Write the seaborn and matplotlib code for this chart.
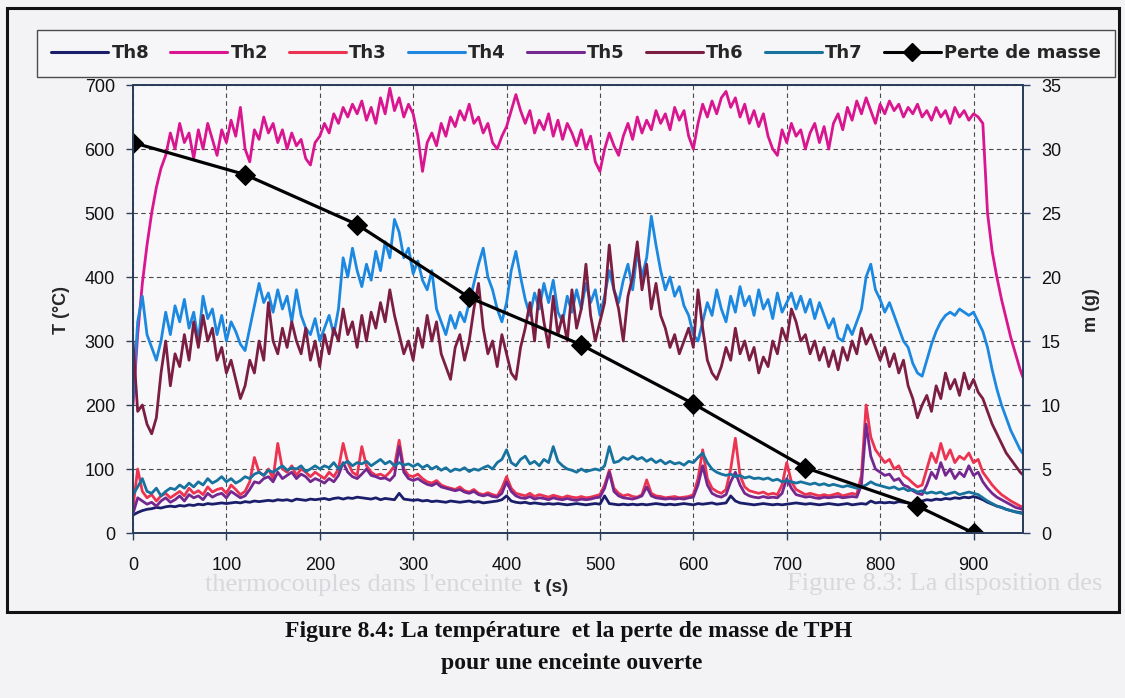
import numpy as np
import pandas as pd
import matplotlib
matplotlib.use("Agg")
import matplotlib.pyplot as plt
import seaborn as sns
from matplotlib.lines import Line2D
from matplotlib.patches import Rectangle

# Acquisition grid: one reading every 5 s
t_s = np.arange(0, 960, 5)

th8 = [28, 32, 35, 37, 38, 40, 39, 41, 42, 41, 43, 42, 44, 43, 45, 44, 46, 45, 46, 47,
       46, 47, 48, 47, 49, 48, 50, 49, 50, 51, 50, 52, 51, 52, 50, 53, 52, 51, 53, 52,
       53, 54, 52, 54, 55, 53, 55, 54, 56, 55, 54, 53, 55, 52, 54, 53, 52, 62, 53, 52,
       51, 52, 50, 51, 49, 50, 49, 48, 50, 49, 48, 49, 50, 48, 49, 47, 48, 49, 50, 52,
       58, 50, 48, 47, 48, 46, 47, 46, 45, 46, 45, 46, 45, 44, 45, 46, 45, 44, 45, 46,
       45, 58, 46, 45, 44, 45, 44, 45, 44, 45, 44, 45, 46, 45, 44, 45, 44, 45, 46, 45,
       44, 46, 45, 46, 47, 45, 46, 47, 58, 50, 47, 46, 45, 44, 45, 46, 45, 44, 45, 44,
       45, 46, 47, 46, 45, 46, 45, 44, 45, 46, 45, 44, 45, 46, 44, 45, 46, 45, 50, 47,
       48, 47, 48, 47, 49, 48, 47, 46, 48, 50, 52, 51, 53, 52, 54, 53, 55, 54, 56, 55,
       57, 55, 52, 48, 45, 42, 40, 37, 35, 33, 32, 30]

th2 = [200, 310, 390, 450, 500, 540, 570, 590, 625, 600, 640, 610, 625, 585, 630, 600, 640, 615, 590, 630,
       610, 645, 620, 665, 600, 580, 630, 615, 650, 625, 640, 610, 630, 600, 625, 605, 615, 585, 575, 610,
       620, 640, 625, 655, 640, 665, 650, 670, 655, 675, 645, 665, 640, 680, 655, 695, 660, 680, 650, 670,
       655, 620, 565, 610, 625, 605, 640, 620, 650, 635, 660, 645, 670, 640, 650, 625, 640, 610, 600, 620,
       635, 660, 685, 660, 640, 660, 625, 645, 630, 655, 620, 645, 615, 640, 625, 605, 630, 600, 620, 580,
       565, 600, 625, 605, 590, 620, 640, 615, 650, 625, 645, 630, 660, 640, 655, 630, 665, 645, 660, 620,
       600, 640, 670, 650, 675, 655, 680, 690, 665, 680, 650, 670, 640, 660, 635, 655, 620, 600, 590, 630,
       610, 640, 620, 630, 600, 625, 640, 610, 635, 600, 640, 655, 630, 665, 645, 675, 655, 680, 660, 640,
       670, 655, 675, 660, 670, 650, 665, 655, 670, 650, 660, 645, 665, 650, 660, 640, 665, 650, 660, 645,
       655, 650, 640, 500, 440, 400, 365, 335, 305, 280, 255, 235]

th3 = [40, 100, 65, 55, 60, 50, 58, 62, 55, 60, 65, 58, 70, 62, 66, 60, 72, 64, 68, 70,
       62, 75, 68, 60, 65, 80, 118, 95, 90, 100, 85, 140, 100, 95, 105, 90, 100, 95, 88, 95,
       90, 85, 95, 88, 100, 140, 110, 95, 90, 135, 105, 95, 90, 92, 88, 95, 105, 145, 100, 90,
       88, 92, 85, 80, 78, 82, 75, 72, 70, 68, 72, 66, 64, 68, 62, 60, 63, 60, 58, 70,
       88, 70, 62, 60, 58, 62, 57, 60, 58, 56, 59, 57, 55, 58, 56, 55, 57, 55, 56, 58,
       60, 75, 98, 70, 62, 58, 60, 57, 56, 60, 83, 62, 58, 57, 55, 56, 57, 55, 56, 57,
       60, 85, 130, 85, 70, 65, 62, 68, 100, 148, 90, 72, 66, 64, 62, 64, 60, 62, 60, 75,
       110, 80, 68, 64, 60, 62, 60, 58, 60, 58, 60, 62, 58, 60, 62, 60, 90, 200, 150, 130,
       120, 110, 115, 100, 105, 90, 85, 78, 72, 75, 100, 125, 110, 140, 115, 130, 110, 120, 115, 125,
       110, 115, 95, 85, 75, 67, 60, 55, 50, 46, 42, 40]

th4 = [210, 330, 370, 310, 290, 270, 300, 345, 310, 355, 330, 365, 320, 345, 300, 370, 335, 350, 310, 340,
       300, 330, 315, 295, 285, 320, 355, 390, 360, 375, 345, 380, 350, 370, 330, 380, 340, 320, 310, 335,
       300, 320, 340, 310, 350, 430, 400, 445, 410, 385, 420, 395, 440, 410, 455, 430, 490, 470, 430, 445,
       405, 425, 395, 380, 410, 350, 330, 310, 340, 320, 345, 330, 360, 390, 420, 445, 400, 380, 350, 330,
       360, 410, 440, 400, 365, 340, 375, 350, 390, 360, 395, 345, 330, 370, 345, 380, 350, 390, 360, 380,
       340, 370, 410, 380, 360, 395, 420, 380, 440, 400, 430, 495, 450, 410, 380, 400, 370, 385, 355, 340,
       310, 300, 330, 360, 340, 380, 350, 330, 370, 345, 385, 355, 370, 340, 380, 350, 365, 335, 375, 345,
       360, 375, 350, 370, 345, 365, 335, 360, 340, 320, 335, 305, 300, 325, 310, 330, 350, 400, 420, 380,
       365, 345, 360, 340, 320, 300, 290, 265, 250, 245, 270, 295, 315, 330, 340, 345, 340, 350, 345, 340,
       345, 330, 315, 290, 255, 225, 200, 180, 160, 145, 130, 120]

th5 = [30, 55, 50, 45, 48, 42, 50, 55, 48, 52, 58, 50, 60, 55, 58, 52, 62, 56, 60, 62,
       55, 65, 60, 55, 58, 68, 80, 78, 85, 88, 80, 95, 85, 90, 95, 85, 92, 88, 80, 85,
       82, 78, 85, 80, 90, 110, 95, 88, 85, 92, 100, 90, 88, 85, 86, 82, 90, 135, 95, 85,
       82, 85, 80, 76, 74, 78, 72, 70, 68, 66, 68, 64, 62, 65, 60, 58, 60, 57, 56, 62,
       80, 65, 58, 55, 54, 57, 53, 55, 54, 52, 55, 53, 52, 54, 52, 51, 53, 52, 53, 55,
       56, 70, 95, 65, 58, 55, 54, 53, 55, 58, 72, 58, 55, 54, 53, 54, 53, 54, 53, 55,
       56, 75, 105, 75, 62, 58, 56, 60, 80, 95, 75, 62, 58, 56, 55, 57, 55, 56, 55, 62,
       85, 70, 60, 58, 56, 57, 55, 54, 56, 55, 56, 57, 55, 56, 57, 56, 75, 170, 120, 100,
       95, 90, 92, 82, 85, 75, 72, 66, 62, 60, 75, 95, 85, 110, 90, 100, 85, 95, 88, 105,
       90, 95, 80, 70, 62, 56, 52, 48, 44, 40, 38, 36]

th6 = [300, 190, 200, 170, 155, 180, 250, 300, 230, 280, 260, 310, 270, 330, 290, 340, 300, 320, 270, 290,
       250, 270, 240, 210, 230, 270, 250, 300, 270, 360, 300, 280, 320, 290, 330, 300, 280, 320, 270, 300,
       260, 310, 280, 320, 300, 350, 310, 330, 290, 340, 300, 345, 320, 360, 330, 380, 340, 310, 280, 300,
       270, 320, 290, 340, 300, 330, 280, 260, 240, 290, 310, 270, 300, 350, 390, 320, 280, 300, 260, 310,
       280, 250, 240, 290, 320, 360, 300, 380, 330, 290, 370, 310, 340, 300, 380, 320, 350, 420, 340, 300,
       330, 360, 450, 380, 350, 300, 370, 400, 455, 380, 420, 350, 390, 340, 320, 290, 310, 280, 300, 320,
       290, 380, 320, 270, 250, 240, 260, 290, 270, 320, 280, 300, 270, 290, 250, 275, 260, 300, 280, 320,
       300, 350, 330, 300, 310, 280, 300, 270, 290, 260, 285, 255, 290, 270, 300, 280, 320, 295, 310, 290,
       270, 290, 260, 280, 250, 270, 230, 210, 180, 200, 215, 190, 230, 210, 250, 225, 240, 215, 250, 225,
       240, 220, 210, 190, 170, 155, 140, 125, 115, 105, 95, 88]

th7 = [60, 72, 85, 65, 62, 70, 58, 65, 70, 68, 75, 70, 78, 72, 80, 75, 85, 78, 82, 88,
       80, 85, 78, 82, 88, 85, 92, 95, 90, 98, 95, 100, 105, 98, 102, 100, 105, 96, 100, 105,
       100, 105, 102, 110, 100, 108, 112, 105, 110, 108, 112, 105, 110, 115, 108, 112, 105, 110, 106, 108,
       104, 108, 102, 106, 100, 104, 98, 102, 96, 100, 98, 102, 96, 100, 98, 102, 105, 100, 110, 115,
       130, 110, 105, 115, 120, 108, 112, 105, 115, 110, 135, 112, 105, 100, 98, 95, 100, 96, 98, 100,
       98, 105, 135, 110, 112, 118, 115, 120, 115, 118, 112, 116, 110, 114, 108, 112, 108, 110, 106, 112,
       110, 118, 125, 110, 100, 95, 92, 90, 92, 88, 90, 86, 88, 85, 86, 84, 86, 82, 84, 80,
       82, 80, 78, 80, 78, 76, 78, 75, 77, 74, 76, 74, 72, 74, 72, 70, 72, 75, 80, 76,
       74, 72, 70, 72, 68, 70, 66, 68, 64, 66, 62, 64, 62, 64, 60, 62, 64, 60, 62, 64,
       62, 60, 55, 50, 46, 42, 40, 37, 35, 33, 31, 30]

# Mass loss of the fuel (weighings every 120 s)
mass_t = [0, 120, 240, 360, 480, 600, 720, 840, 900]
mass_g = [30.5, 28.0, 24.1, 18.4, 14.7, 10.1, 5.1, 2.1, 0.0]

series_names = ["Th8", "Th2", "Th3", "Th4", "Th5", "Th6", "Th7"]
series_values = [th8, th2, th3, th4, th5, th6, th7]
for name, vals in zip(series_names, series_values):
    assert len(vals) == len(t_s), (name, len(vals))

palette = {
    "Th8": "#1b1f6b",
    "Th2": "#d9168f",
    "Th3": "#ec3452",
    "Th4": "#1c88e0",
    "Th5": "#74288f",
    "Th6": "#7b1e42",
    "Th7": "#17729e",
}

sns.set_theme(style="white")
plt.rcParams["font.family"] = ["Liberation Sans", "DejaVu Sans"]

W, H = 1125, 698
fig = plt.figure(figsize=(W / 100, H / 100), dpi=100, facecolor="#f3f3f5")


def fx(px):
    return px / W


def fy(py):
    return 1 - py / H


# Faint show-through text of the facing page
ghost_kw = dict(color="#d8d8dc", family="Liberation Serif", fontsize=19, zorder=0)
fig.text(fx(205), fy(574), "thermocouples dans l'enceinte", va="top", ha="left", **ghost_kw)
fig.text(fx(787), fy(573), "Figure 8.3: La disposition des", va="top", ha="left", **ghost_kw)

# Chart frame
fig.patches.append(Rectangle((fx(7), fy(612)), fx(1119) - fx(7), fy(8) - fy(612),
                             transform=fig.transFigure, fill=False, edgecolor="#111111",
                             linewidth=2.2, zorder=1))

left, right, top, bottom = 133, 1023, 85, 533
ax = fig.add_axes([fx(left), fy(bottom), fx(right) - fx(left), fy(top) - fy(bottom)])
ax.set_facecolor("#f8f8fa")

df = pd.DataFrame({
    "t": np.tile(t_s, len(series_names)),
    "T": np.concatenate(series_values),
    "serie": np.repeat(series_names, len(t_s)),
})
sns.lineplot(data=df, x="t", y="T", hue="serie", hue_order=series_names, palette=palette,
             estimator=None, sort=False, linewidth=2.0, legend=False, ax=ax)

ax.set_xlim(0, 953)
ax.set_ylim(0, 700)
ax.set_xticks(range(0, 901, 100))
ax.set_yticks(range(0, 701, 100))
ax.set_xlabel("")
ax.set_ylabel("")
ax.grid(True, which="major", linestyle=(0, (4, 3)), color="#4a4a4a", linewidth=0.8)
ax.tick_params(axis="both", which="major", bottom=True, left=True, direction="out",
               length=5, width=1, colors="#2b3f5c", labelcolor="#111111", labelsize=13)
ax.tick_params(axis="x", pad=12)
ax.tick_params(axis="y", pad=8)

ax2 = ax.twinx()
sns.lineplot(x=mass_t, y=mass_g, ax=ax2, color="black", linewidth=2.3, marker="D",
             markersize=10, markeredgecolor="black", markerfacecolor="black")
ax2.set_ylim(0, 35)
ax2.set_yticks(range(0, 36, 5))
ax2.set_ylabel("")
ax2.tick_params(axis="y", right=True, direction="out", length=5, width=1, pad=8,
                colors="#2b3f5c", labelcolor="#111111", labelsize=13)
ax2.grid(False)

for a in (ax, ax2):
    for sp in a.spines.values():
        sp.set_color("#2b3f5c")
        sp.set_linewidth(1.4)

# Axis titles
fig.text(fx(62), fy(310), "T (°C)", rotation=90, ha="center", va="center",
         fontsize=13, fontweight="bold")
fig.text(fx(1091), fy(310), "m (g)", rotation=90, ha="center", va="center",
         fontsize=13, fontweight="bold")
fig.text(fx(551), fy(588), "t (s)", ha="center", va="center", fontsize=13.5, fontweight="bold")

# Legend across the top of the chart
handles = [Line2D([0], [0], color=palette[n], linewidth=2.2) for n in series_names]
handles.append(Line2D([0], [0], color="black", linewidth=2.2, marker="D", markersize=9))
labels = series_names + ["Perte de masse"]
leg = fig.legend(handles, labels, loc="upper left", bbox_to_anchor=(fx(37), fy(30)),
                 ncol=8, frameon=True, fancybox=False, handlelength=3.15,
                 handletextpad=0.17, columnspacing=1.18, borderaxespad=0, borderpad=0.8,
                 prop={"family": "DejaVu Sans", "weight": "bold", "size": 13})
leg.get_frame().set_edgecolor("#222222")
leg.get_frame().set_linewidth(1.0)
leg.get_frame().set_facecolor("#f8f8fa")

# Caption
cap_kw = dict(family="Liberation Serif", fontweight="bold", fontsize=17, ha="center",
              va="center", color="#111111")
fig.text(fx(569), fy(632), "Figure 8.4: La température  et la perte de masse de TPH", **cap_kw)
fig.text(fx(572), fy(663), "pour une enceinte ouverte", **cap_kw)

fig.savefig("out.png", dpi=100, facecolor=fig.get_facecolor())
